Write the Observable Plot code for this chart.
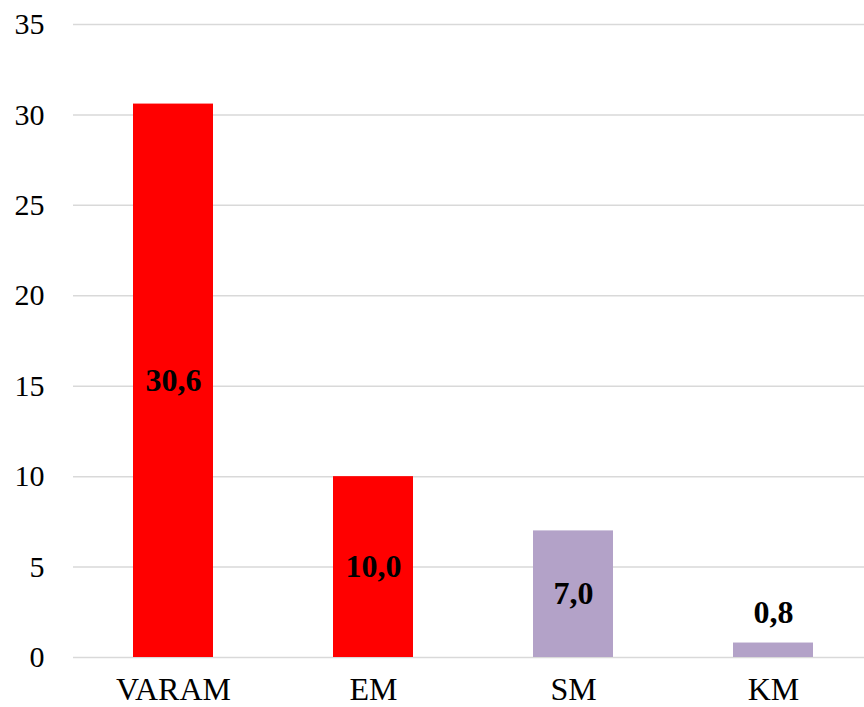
<!DOCTYPE html>
<html>
<head>
<meta charset="utf-8">
<script src="https://cdn.jsdelivr.net/npm/d3@7"></script>
<script src="https://cdn.jsdelivr.net/npm/@observablehq/plot@0.6"></script>
<style>
  html, body { margin: 0; padding: 0; background: #fff; }
  #chart svg { display: block; }
</style>
</head>
<body>
<div id="chart"></div>
<script>
const categories = ["VARAM", "EM", "SM", "KM"];
const values = [30.6, 10.0, 7.0, 0.8];
const labels = ["30,6", "10,0", "7,0", "0,8"];
const colors = ["#FF0000", "#FF0000", "#B3A2C8", "#B3A2C8"];
const yTicks = [0, 5, 10, 15, 20, 25, 30, 35];

const data = categories.map((c, i) => ({cat: c, value: values[i], label: labels[i], color: colors[i]}));
const inside = data.filter(d => d.value >= 3);
const outside = data.filter(d => d.value < 3);

const font = "'Liberation Serif', 'Times New Roman', serif";

const chart = Plot.plot({
  width: 864,
  height: 707,
  marginLeft: 73,
  marginRight: 0,
  marginTop: 24,
  marginBottom: 50,
  style: {fontFamily: font, fontSize: "30px", color: "#000", background: "#fff", overflow: "visible"},
  x: {domain: categories, range: [73, 873], paddingInner: 0.6, paddingOuter: 0.3, label: null},
  y: {domain: [0, 35], label: null},
  marks: [
    Plot.ruleY(yTicks, {stroke: "#d9d9d9", strokeWidth: 1.5}),
    Plot.barY(data, {x: "cat", y: "value", fill: "color"}),
    Plot.text(inside, {x: "cat", y: d => d.value / 2, text: "label", fontWeight: "bold", fontSize: 32, fill: "#000"}),
    Plot.text(outside, {x: "cat", y: "value", text: "label", fontWeight: "bold", fontSize: 32, fill: "#000", dy: -30}),
    Plot.axisY({ticks: yTicks, tickSize: 0, tickPadding: 29, tickFormat: d => String(d), fontSize: 30}),
    Plot.axisX({tickSize: 0, tickPadding: 20, fontSize: 32})
  ]
});
document.getElementById("chart").appendChild(chart);
</script>
</body>
</html>
